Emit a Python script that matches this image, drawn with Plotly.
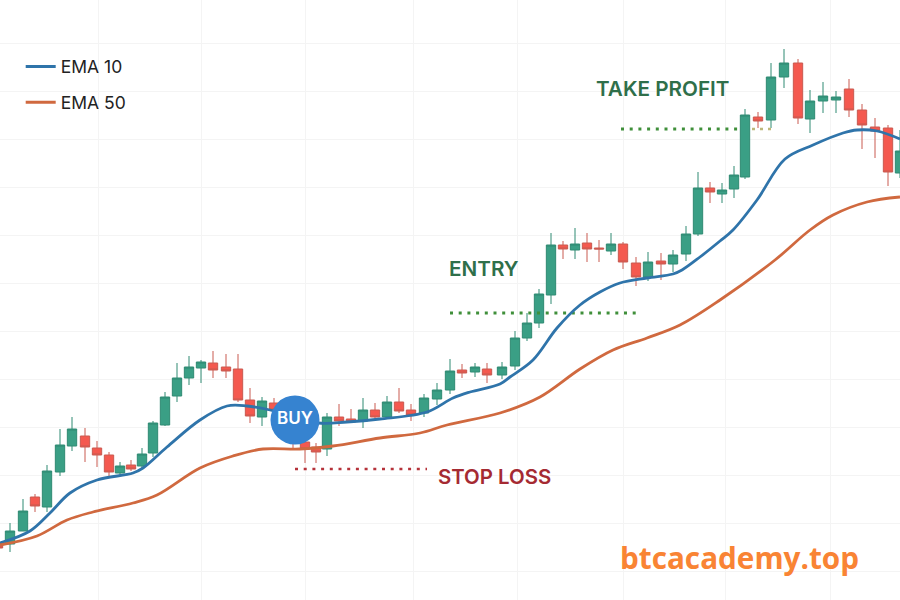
import plotly.graph_objects as go

# bar positions and ohlc
bar_x = [-2, 10, 23, 35, 47, 60, 72, 85, 97, 109, 120, 131, 142, 153, 165, 177, 189, 201, 213, 226, 238, 250, 262, 274,
         293, 305, 316, 327, 339, 351, 363, 375, 387, 399, 411, 424, 437, 450, 462, 475, 487, 502, 515, 527, 539, 551,
         563, 575, 587, 599, 611, 623, 636, 648, 661, 673, 686, 698, 710, 722, 734, 745, 758, 771, 784, 798, 810, 823,
         836, 849, 862, 875, 888, 900]
opens = [57, 56, 69, 103, 93, 128, 154, 164, 152, 145, 127, 135, 134, 147, 175, 204, 222, 232, 237, 233, 231, 200, 183, 197,
         175, 158, 153, 151, 183, 181, 179, 190, 183, 198, 190, 187, 201, 210, 230, 228, 231, 225, 234, 262, 277, 305,
         355, 350, 357, 352, 349, 356, 337, 323, 339, 336, 346, 366, 412, 406, 411, 423, 483, 480, 523, 537, 481, 499,
         500, 511, 490, 473, 472, 427]
highs = [60, 77, 101, 106, 135, 171, 183, 172, 159, 148, 138, 140, 152, 179, 208, 237, 244, 240, 249, 246, 246, 212, 203, 202,
         195, 162, 157, 187, 196, 191, 202, 197, 204, 212, 196, 206, 217, 241, 236, 237, 237, 238, 269, 287, 311, 367,
         359, 372, 367, 360, 367, 358, 343, 348, 347, 350, 374, 428, 418, 417, 434, 491, 488, 537, 551, 541, 510, 518,
         509, 521, 496, 482, 475, 470]
lows = [48, 48, 69, 88, 88, 124, 149, 138, 133, 124, 125, 129, 131, 143, 174, 198, 215, 217, 222, 222, 198, 177, 174, 184,
        150, 137, 137, 144, 174, 177, 172, 181, 181, 187, 179, 183, 195, 206, 222, 223, 217, 221, 230, 259, 272, 296,
        341, 341, 338, 338, 345, 331, 314, 319, 320, 328, 339, 364, 397, 397, 402, 421, 472, 472, 512, 476, 467, 487,
        487, 483, 451, 442, 414, 422]
closes = [52, 69, 89, 94, 129, 155, 171, 153, 145, 128, 134, 131, 146, 177, 203, 222, 233, 238, 230, 229, 200, 184, 199, 190,
          160, 151, 148, 183, 179, 178, 190, 183, 198, 189, 185, 202, 210, 229, 227, 233, 225, 233, 262, 277, 306, 355,
          351, 356, 351, 351, 356, 338, 323, 338, 336, 345, 366, 412, 408, 410, 425, 485, 479, 523, 537, 482, 499, 504,
          503, 490, 475, 469, 428, 449]

ema10_x = [0, 30, 50, 70, 97, 133, 143, 167, 200, 227, 247, 270, 318, 347, 380, 427, 453, 470, 500, 510, 533, 557, 580,
           600, 620, 647, 673, 682, 700, 720, 733, 757, 785, 813, 843, 857, 877, 900]
ema10_y = [57, 69, 87, 107, 120, 127, 132, 153, 180, 194, 194, 190, 177, 178, 181, 188, 202, 208, 216, 223, 240, 272, 295,
           308, 317, 322, 326, 330, 343, 359, 370, 400, 441, 455, 467, 470, 469, 461]
ema50_x = [0, 37, 67, 93, 133, 157, 200, 233, 263, 300, 333, 380, 420, 447, 500, 540, 580, 613, 647, 680, 720,
           775, 810, 833, 867, 900]
ema50_y = [55, 64, 80, 88, 97, 105, 132, 144, 151, 151, 154, 162, 167, 175, 187, 203, 231, 250, 262, 275, 300,
           340, 370, 385, 398, 403]

grid_x = [98, 201, 305, 413, 517, 623, 725, 830]
grid_y = [29, 77, 125, 173, 221, 269, 317, 365, 413, 461, 509, 557]

fig = go.Figure()

# target levels go under the candles
fig.add_trace(go.Scatter(x=[621, 742], y=[471, 471], mode="lines", showlegend=False, hoverinfo="skip",
                         line=dict(color="#3f8f3a", width=3, dash="3px,5.7px")))
fig.add_trace(go.Scatter(x=[752, 776], y=[471, 471], mode="lines", showlegend=False, hoverinfo="skip",
                         line=dict(color="#bdb77a", width=2.5, dash="3px,5px")))
fig.add_trace(go.Scatter(x=[450, 638], y=[287, 287], mode="lines", showlegend=False, hoverinfo="skip",
                         line=dict(color="#3f8f3a", width=3, dash="3px,5.7px")))
fig.add_trace(go.Scatter(x=[295, 427], y=[131, 131], mode="lines", showlegend=False, hoverinfo="skip",
                         line=dict(color="#b5323a", width=2.5, dash="3px,5.7px")))

fig.add_trace(go.Candlestick(
    x=bar_x, open=opens, high=highs, low=lows, close=closes,
    showlegend=False,
    increasing=dict(line=dict(color="#2f8a72", width=1), fillcolor="#3a9f85"),
    decreasing=dict(line=dict(color="#c95a50", width=1), fillcolor="#f4594f"),
))

fig.add_trace(go.Scatter(x=ema10_x, y=ema10_y, mode="lines", name="EMA 10", legendgroup="a",
                         line=dict(color="#2f74aa", width=2.8, shape="spline", smoothing=1)))
fig.add_trace(go.Scatter(x=ema50_x, y=ema50_y, mode="lines", name="EMA 50", legendgroup="b",
                         line=dict(color="#d0693f", width=2.8, shape="spline", smoothing=1)))

# buy marker
fig.add_trace(go.Scatter(x=[295], y=[180], mode="markers+text", text=["BUY"], showlegend=False,
                         marker=dict(size=49, color="#3683d0"), textposition="middle center",
                         textfont=dict(family="Inter", size=17, color="white", weight=600)))

labels = [("TAKE PROFIT", 596, 512, "#2f6f4a", 20.7, 600, "Inter"),
          ("ENTRY", 449, 332, "#2f6f4a", 20.7, 600, "Inter"),
          ("STOP LOSS", 438, 124, "#a52a32", 20.4, 600, "Inter"),
          ("btcacademy.top", 620, 43, "#f98434", 29.7, 700, "Open Sans")]
for text, x, y, color, size, weight, family in labels:
    fig.add_annotation(x=x, y=y, text=text, showarrow=False, xanchor="left", yanchor="middle",
                       xshift=-2, font=dict(family=family, size=size, color=color, weight=weight))

fig.update_layout(
    width=900, height=600,
    margin=dict(l=0, r=0, t=0, b=0),
    paper_bgcolor="white", plot_bgcolor="white",
    boxgap=0.15,
    boxgroupgap=0,
    showlegend=True,
    legend=dict(x=0.023, y=0.919, xanchor="left", yanchor="top", bgcolor="rgba(0,0,0,0)",
                tracegroupgap=10, itemwidth=30,
                font=dict(family="Inter", size=17.5, color="#222222")),
    hovermode=False,
)
fig.update_xaxes(range=[0, 900], tickvals=grid_x, showticklabels=False, rangeslider_visible=False,
                 showgrid=True, gridcolor="#f4f4f4", zeroline=False, showline=False, ticks="")
fig.update_yaxes(range=[0, 600], tickvals=grid_y, showticklabels=False,
                 showgrid=True, gridcolor="#f4f4f4", zeroline=False, showline=False, ticks="")

fig.write_html("out.html", config=dict(displayModeBar=False), post_script="document.body.style.margin='0';")
